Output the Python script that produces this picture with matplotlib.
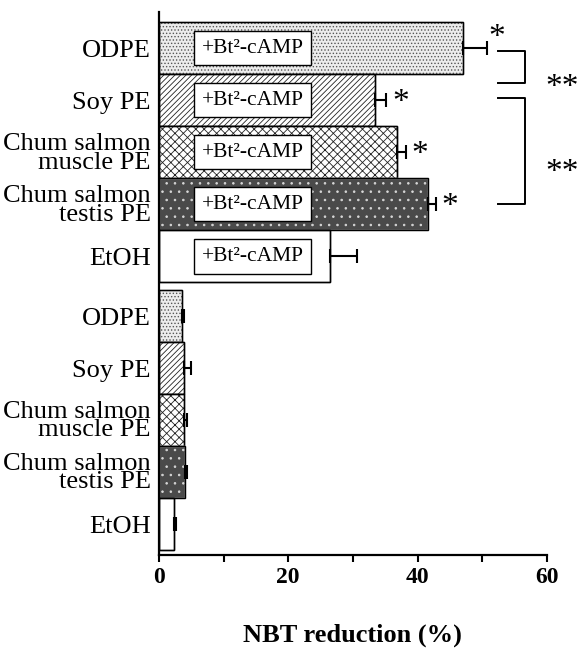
import numpy as np
import matplotlib.pyplot as plt

plt.rcParams['hatch.linewidth'] = 0.6

# ---- data
labels = ['ODPE', 'Soy PE', 'Chum salmon\nmuscle PE', 'Chum salmon\ntestis PE', 'EtOH']
camp_vals = [47.0, 33.4, 36.8, 41.7, 26.4]
camp_err = [3.7, 1.8, 1.4, 1.1, 4.3]
base_vals = [3.6, 3.9, 3.9, 4.0, 2.3]
base_err = [0.3, 1.0, 0.5, 0.3, 0.3]
signif = ['*', '*', '*', '*', '']
inner_label = '+Bt\u00b2-cAMP'

# ---- styles per group member
faces = ['#ececec', 'white', 'white', '#4a4a4a', 'white']
hatches = ['.....', '//////', 'xxxx', '..', None]
hatch_cols = ['#555555', '#222222', '#222222', '#d8d8d8', 'black']

serif = 'Liberation Serif'
fig = plt.figure(figsize=(5.78, 6.49), dpi=100)
ax = fig.add_axes([0.275, 0.1448, 0.671, 0.8367])

pos_top = np.arange(5)
pos_bot = np.arange(5) + 5.15

def draw_group(pos, vals, errs):
    for i in range(5):
        b = ax.barh(pos[i], vals[i], height=1.0, color=faces[i],
                    edgecolor='black', linewidth=1.0, hatch=hatches[i])
        b[0].set_edgecolor(hatch_cols[i])
        # outline drawn separately so the hatch colour can differ
        ax.barh(pos[i], vals[i], height=1.0, fill=False,
                edgecolor='black', linewidth=1.0)
    ax.errorbar(vals, pos, xerr=[np.zeros(5), errs], fmt='none',
                ecolor='black', elinewidth=1.5, capsize=5, capthick=1.5)

draw_group(pos_top, camp_vals, camp_err)
draw_group(pos_bot, base_vals, base_err)

for p in pos_top:
    ax.text(14.5, p, inner_label, fontsize=15.5, family=serif,
            ha='center', va='center',
            bbox=dict(boxstyle='square,pad=0.35', fc='white', ec='black', lw=1.0))

for i, p in enumerate(pos_top):
    if signif[i]:
        dx = 1.5 if i == 0 else 2.2
        dy = -0.2 if i == 0 else 0.05
        ax.text(camp_vals[i] + camp_err[i] + dx, p + dy, signif[i],
                fontsize=24, family=serif, ha='center', va='center')

# brackets between groups
def bracket(y0, y1, x0=52.4, x1=56.7):
    ax.plot([x0, x1, x1, x0], [y0, y0, y1, y1], color='black', lw=1.4,
            clip_on=False)

bracket(0.05, 0.66)
bracket(0.95, 2.99)
ax.text(62.3, 0.75, '**', fontsize=24, family=serif, ha='center',
        va='center', clip_on=False)
ax.text(62.3, 2.40, '**', fontsize=24, family=serif, ha='center',
        va='center', clip_on=False)

ax.set_xlim(0, 60)
ax.set_ylim(9.74, -0.70)
ax.set_yticks(list(pos_top) + list(pos_bot))
ax.set_yticklabels(labels + labels, family=serif, fontsize=19, linespacing=0.8)
ax.tick_params(axis='y', length=0, pad=6)
ax.set_xticks([0, 20, 40, 60])
ax.set_xticks([10, 30, 50], minor=True)
ax.set_xticklabels(['0', '20', '40', '60'], family=serif, fontsize=17,
                   fontweight='bold')
ax.tick_params(axis='x', which='both', direction='out', length=5, width=1.5)
ax.set_xlabel('NBT reduction (%)', family=serif, fontsize=19,
              fontweight='bold', labelpad=26)

for s in ['top', 'right']:
    ax.spines[s].set_visible(False)
ax.spines['left'].set_linewidth(1.6)
ax.spines['bottom'].set_linewidth(1.6)

fig.savefig('out.png', dpi=100)
